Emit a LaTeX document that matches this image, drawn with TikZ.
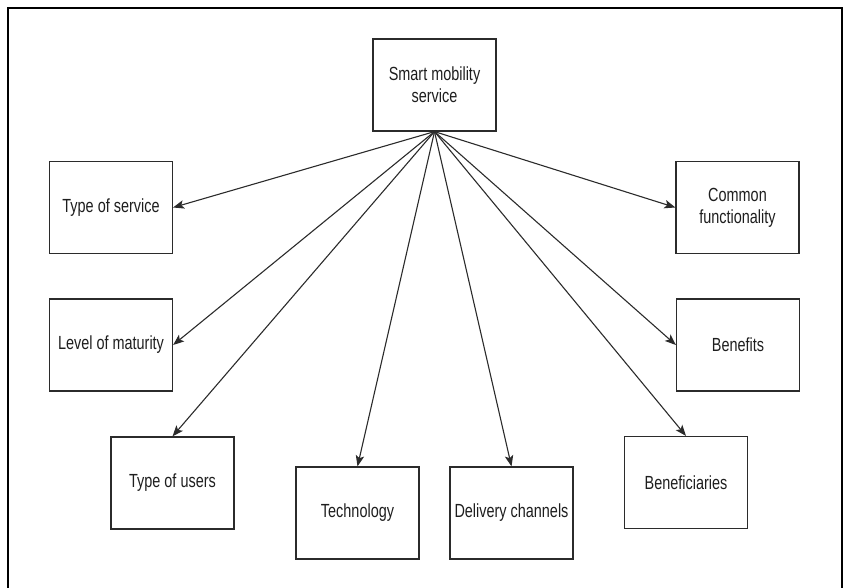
\documentclass[tikz,border=0pt]{standalone}
\usepackage{fontspec}
\setmainfont{Liberation Sans}[FakeStretch=0.76]
\usetikzlibrary{arrows.meta}
\definecolor{inkline}{HTML}{2B2B2B}
\definecolor{inktext}{HTML}{1E1E1E}
\begin{document}
\begin{tikzpicture}[x=1pt,y=-1pt,
  box/.style={draw=inkline, line width=1.2pt, minimum width=123pt, minimum height=92pt,
    inner sep=0pt, align=center, text=inktext, font=\fontsize{19}{22}\selectfont},
  link/.style={draw=inkline, line width=1.1pt, -{Stealth[length=11pt,width=8.5pt,inset=2.5pt]}}]
  \useasboundingbox (0,0) rectangle (850,587);
  % frame (lower edge runs off the page)
  \draw[line width=2pt, draw=black] (8,600) -- (8,8) -- (842,8) -- (842,600);

  \node[box] (sms)  at (434.5,85)  {Smart mobility\\service};
  \node[box] (tos)  at (111,207.5) {Type of service};
  \node[box] (lom)  at (111,345)   {Level of maturity};
  \node[box] (tou)  at (172.5,483) {Type of users};
  \node[box] (tech) at (357.5,513) {Technology};
  \node[box] (del)  at (511.5,513) {Delivery channels};
  \node[box] (bfy)  at (686,482.5) {Beneficiaries};
  \node[box] (ben)  at (738,345)   {Benefits};
  \node[box] (com)  at (737.5,207.5) {Common\\functionality};

  \foreach \t/\a in {tos/east, lom/east, tou/north, tech/north, del/north, bfy/north, ben/west, com/west}
    \draw[link] (sms.south) -- (\t.\a);
\end{tikzpicture}
\end{document}
